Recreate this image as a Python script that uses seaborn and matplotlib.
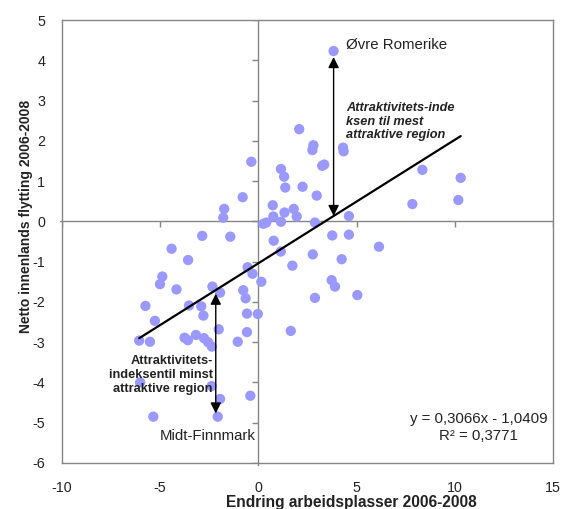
#!/usr/bin/env python3

import numpy as np
import pandas as pd
import seaborn as sns
import matplotlib.pyplot as plt

# change in jobs 2006-2008 (x) vs net domestic migration 2006-2008 (y)
endring = [3.83, 2.08, 2.80, 2.75, 4.31, 4.34, -0.36, 3.25, 3.35, 1.15,
           1.31, 1.37, 2.25, 8.35, 10.30, -0.80, 2.97, 7.84, 10.18, 0.73,
           -1.74, -1.79, 1.80, 1.33, 1.95, 0.76, 4.61, 1.15, 0.25, 0.40,
           2.88, -2.86, -1.43, 3.76, 4.61, 0.78, 6.14, -4.42, 1.14, 2.77,
           -3.58, 4.24, 1.73, -0.55, -0.30, 0.15, 3.73, 3.90, -4.89, -5.01,
           -4.17, -2.34, -1.95, -0.77, -0.65, 2.88, 5.04, -5.75, -3.53, -2.91,
           -2.80, -5.27, -0.58, -0.03, -2.02, -0.58, 1.65, -6.07, -5.52, -3.76,
           -3.59, -3.18, -2.77, -2.56, -2.37, -1.05, -6.02, -2.38, -1.95, -0.41,
           -5.35, -2.07]
netto = [4.23, 2.29, 1.89, 1.77, 1.83, 1.74, 1.48, 1.38, 1.41, 1.30,
         1.11, 0.84, 0.86, 1.28, 1.08, 0.60, 0.64, 0.43, 0.53, 0.40,
         0.31, 0.09, 0.31, 0.22, 0.12, 0.12, 0.13, -0.01, -0.06, -0.03,
         -0.03, -0.36, -0.38, -0.35, -0.33, -0.48, -0.63, -0.68, -0.75, -0.82,
         -0.96, -0.94, -1.10, -1.14, -1.30, -1.50, -1.46, -1.62, -1.37, -1.56,
         -1.69, -1.62, -1.77, -1.71, -1.91, -1.90, -1.83, -2.10, -2.09, -2.11,
         -2.34, -2.47, -2.29, -2.30, -2.68, -2.75, -2.72, -2.96, -2.99, -2.89,
         -2.95, -2.82, -2.90, -3.00, -3.11, -2.99, -4.00, -4.09, -4.41, -4.33,
         -4.85, -4.85]

slope = 0.3066
intercept = -1.0409
r2 = 0.3771

best = ("Øvre Romerike", 3.83, 4.23)
worst = ("Midt-Finnmark", -2.07, -4.85)

xticks = [-10, -5, 0, 5, 10, 15]
yticks = [-6, -5, -4, -3, -2, -1, 0, 1, 2, 3, 4, 5]


def main():
    df = pd.DataFrame({"x": endring, "y": netto})

    sns.set_theme(style="white")
    plt.rcParams["font.family"] = ["Liberation Sans", "DejaVu Sans"]
    plt.rcParams["axes.unicode_minus"] = False
    grey = "#868686"
    ink = "#222222"

    fig = plt.figure(figsize=(5.63, 5.09), dpi=100)
    ax = fig.add_axes([0.1101, 0.0904, 0.8721, 0.8703])

    # axes crossing at origin, Excel style (slightly poking out of the frame)
    ax.plot([-10.08, 15], [0, 0], color=grey, lw=1, zorder=1, clip_on=False)
    ax.plot([0, 0], [-6.04, 5], color=grey, lw=1, zorder=1, clip_on=False)
    ax.plot(np.zeros(len(yticks)), yticks, linestyle="none", marker=0,
            ms=4, mew=1, color=grey, zorder=1)
    ax.plot(xticks, np.zeros(len(xticks)), linestyle="none", marker=3,
            ms=4, mew=1, color=grey, zorder=1)

    sns.scatterplot(data=df, x="x", y="y", ax=ax, s=55, color="#9999ff",
                    edgecolor="none", linewidth=0, zorder=3)

    # trend line from the reported equation
    xl = np.array([min(endring), max(endring)])
    ax.plot(xl, slope * xl + intercept, color="black", lw=1.6, zorder=4)

    # arrows from line to the extreme regions
    ax.annotate("", xy=(best[1], best[2] - 0.15), xytext=(best[1], slope * best[1] + intercept),
                arrowprops=dict(arrowstyle="<|-|>", color="black", lw=1,
                                mutation_scale=16, shrinkA=0, shrinkB=0), zorder=5)
    ax.annotate("", xy=(worst[1] - 0.1, worst[2] + 0.08),
                xytext=(worst[1] - 0.1, slope * (worst[1] - 0.1) + intercept - 0.09),
                arrowprops=dict(arrowstyle="<|-|>", color="black", lw=1,
                                mutation_scale=16, shrinkA=0, shrinkB=0), zorder=5)

    ax.text(4.45, 4.39, best[0], fontsize=10.8, ha="left", va="center", color=ink)
    ax.text(-0.15, -5.32, worst[0], fontsize=10.8, ha="right", va="center", color=ink)
    ax.text(4.45, 2.97, "Attraktivitets-inde\nksen til mest\nattraktive region",
            fontsize=9.2, fontweight="bold", fontstyle="italic", ha="left", va="top",
            linespacing=1.2, color=ink)
    ax.text(-2.33, -3.33, "Attraktivitets-\nindeksentil minst\nattraktive region",
            fontsize=9.2, fontweight="bold", ha="right", va="top",
            linespacing=1.2, color=ink)
    eq = "y = 0,3066x - 1,0409\nR² = " + f"{r2:.4f}".replace(".", ",")
    ax.text(11.2, -5.12, eq, fontsize=10.8, ha="center", va="center",
            linespacing=1.22, color=ink)

    ax.set_xlim(-10, 15)
    ax.set_ylim(-6, 5)
    ax.set_xticks(xticks)
    ax.set_yticks(yticks)
    ax.tick_params(axis="x", length=0, pad=13, labelsize=10.3, colors=ink)
    ax.tick_params(axis="y", length=0, pad=12, labelsize=10.3, colors=ink)
    for sp in ax.spines.values():
        sp.set_color(grey)
        sp.set_linewidth(1)
    ax.set_xlabel("")
    ax.set_ylabel("")

    fig.text(0.6247, 0.013, "Endring arbeidsplasser 2006-2008", ha="center",
             va="center", fontsize=11.2, fontweight="bold", color=ink)
    fig.text(0.0462, 0.5756, "Netto innenlands flytting 2006-2008", ha="center",
             va="center", rotation=90, fontsize=10, fontweight="bold", color=ink)

    fig.savefig("out.png", dpi=100)
    plt.close(fig)


if __name__ == "__main__":
    main()
